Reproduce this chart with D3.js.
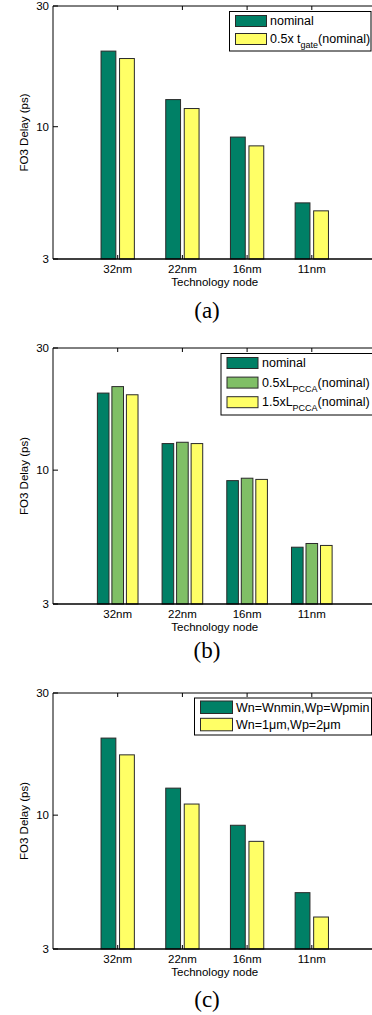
<!DOCTYPE html>
<html>
<head>
<meta charset="utf-8">
<script src="https://cdn.jsdelivr.net/npm/d3@7"></script>
<style>
  body { margin: 0; background: #fff; }
  svg { display: block; }
  text { font-family: "Liberation Sans", Arial, sans-serif; fill: #000; }
  .caption { font-family: "Liberation Serif", "Times New Roman", serif; }
</style>
</head>
<body>
<div id="chart"></div>
<script>

const categories = ["32nm", "22nm", "16nm", "11nm"]
const yTicks = [3, 10, 30]

// (a) gate thickness
const aNominal = [19.9, 12.8, 9.1, 5.0]
const aHalfTgate = [18.6, 11.8, 8.4, 4.65]

// (b) PCCA length
const bNominal = [20.0, 12.7, 9.1, 5.0]
const bHalfLpcca = [21.2, 12.85, 9.3, 5.17]
const bOneHalfLpcca = [19.7, 12.7, 9.2, 5.08]

// (c) device widths
const cMinWidth = [20.0, 12.75, 9.13, 4.98]
const cWideWidth = [17.2, 11.05, 7.9, 4.0]

const darkGreen = "#008066"
const lightGreen = "#80bf66"
const yellow = "#ffff66"

const width = 372
const height = 1015

const svg = d3.select("#chart").append("svg")
  .attr("width", width)
  .attr("height", height)

// x axis runs 0..5 with the categories at 1..4, right edge falls off the page
const x = d3.scaleLinear().domain([0, 5]).range([53, 376.5])

const panels = [
  {
    top: 6, bottom: 259, groupWidth: 0.515,
    series: [
      { values: aNominal, color: darkGreen, label: ["nominal"] },
      { values: aHalfTgate, color: yellow, label: ["0.5x t", "gate", "(nominal)"] }
    ],
    legend: { x: 229.5, y: 11.5, w: 141.5, h: 39.5, sx: 235.5, sw: 31, sy: 15.5, sh: 11, pitch: 18, tx: 270 },
    caption: "(a)", captionY: 318
  },
  {
    top: 348, bottom: 604, groupWidth: 0.628,
    series: [
      { values: bNominal, color: darkGreen, label: ["nominal"] },
      { values: bHalfLpcca, color: lightGreen, label: ["0.5xL", "PCCA", "(nominal)"] },
      { values: bOneHalfLpcca, color: yellow, label: ["1.5xL", "PCCA", "(nominal)"] }
    ],
    legend: { x: 221, y: 353.5, w: 170, h: 61.5, sx: 227, sw: 31, sy: 357.5, sh: 11, pitch: 19.6, tx: 262 },
    caption: "(b)", captionY: 658
  },
  {
    top: 693, bottom: 949, groupWidth: 0.515,
    series: [
      { values: cMinWidth, color: darkGreen, label: ["Wn=Wnmin,Wp=Wpmin"] },
      { values: cWideWidth, color: yellow, label: ["Wn=1\u03bcm,Wp=2\u03bcm"] }
    ],
    legend: { x: 194.5, y: 698, w: 177, h: 37, sx: 200.5, sw: 32, sy: 701, sh: 12.5, pitch: 17.3, tx: 236 },
    caption: "(c)", captionY: 1007
  }
]

panels.forEach(drawPanel)

function drawPanel(p) {
  const g = svg.append("g")
  const y = d3.scaleLog().domain([3, 30]).range([p.bottom, p.top])

  const sub = d3.scaleBand()
    .domain(d3.range(p.series.length))
    .range([-p.groupWidth / 2, p.groupWidth / 2])
    .paddingInner(0.2)
  const unit = x(1) - x(0)

  // ticks first so the bars sit over them
  const catX = d3.range(1, categories.length + 1)
  g.append("g").selectAll("line.bt")
    .data(catX).join("line")
    .attr("x1", d => x(d)).attr("x2", d => x(d))
    .attr("y1", p.bottom).attr("y2", p.bottom - 4)
    .attr("stroke", "#000")
  g.append("g").selectAll("line.tt")
    .data(catX).join("line")
    .attr("x1", d => x(d)).attr("x2", d => x(d))
    .attr("y1", p.top).attr("y2", p.top + 4)
    .attr("stroke", "#000")
  g.append("g").selectAll("line")
    .data(yTicks).join("line")
    .attr("x1", x(0)).attr("x2", x(0) + 5)
    .attr("y1", d => y(d)).attr("y2", d => y(d))
    .attr("stroke", "#000")

  // bars
  p.series.forEach((s, si) => {
    g.append("g").selectAll("rect")
      .data(s.values).join("rect")
      .attr("x", (d, i) => x(i + 1) + sub(si) * unit)
      .attr("width", sub.bandwidth() * unit)
      .attr("y", d => y(d))
      .attr("height", d => p.bottom - y(d))
      .attr("fill", s.color)
      .attr("stroke", "#2a2a2a")
      .attr("stroke-width", 1)
  })

  // axes box
  g.append("line")
    .attr("x1", x(0)).attr("x2", x(5))
    .attr("y1", p.top).attr("y2", p.top)
    .attr("stroke", "#000")
  g.append("line")
    .attr("x1", x(0)).attr("x2", x(5))
    .attr("y1", p.bottom).attr("y2", p.bottom)
    .attr("stroke", "#000").attr("stroke-width", 1.4)
  g.append("line")
    .attr("x1", x(0)).attr("x2", x(0))
    .attr("y1", p.top).attr("y2", p.bottom)
    .attr("stroke", "#000")

  // tick labels
  g.append("g").selectAll("text")
    .data(yTicks).join("text")
    .attr("x", x(0) - 4)
    .attr("y", d => y(d) + 4)
    .attr("text-anchor", "end")
    .style("font-size", "11.5px")
    .text(d => d)
  g.append("g").selectAll("text")
    .data(categories).join("text")
    .attr("x", (d, i) => x(i + 1))
    .attr("y", p.bottom + 14)
    .attr("text-anchor", "middle")
    .style("font-size", "11.5px")
    .text(d => d)

  g.append("text")
    .attr("x", x(2.5))
    .attr("y", p.bottom + 27)
    .attr("text-anchor", "middle")
    .style("font-size", "11.5px")
    .text("Technology node")

  g.append("text")
    .attr("transform", `translate(28,${(p.top + p.bottom) / 2}) rotate(-90)`)
    .attr("text-anchor", "middle")
    .style("font-size", "11.5px")
    .text("FO3 Delay (ps)")

  // legend
  const L = p.legend
  g.append("rect")
    .attr("x", L.x).attr("y", L.y)
    .attr("width", L.w).attr("height", L.h)
    .attr("fill", "#fff").attr("stroke", "#000")
  p.series.forEach((s, si) => {
    const ry = L.sy + si * L.pitch
    g.append("rect")
      .attr("x", L.sx).attr("y", ry)
      .attr("width", L.sw).attr("height", L.sh)
      .attr("fill", s.color).attr("stroke", "#2a2a2a")
    const t = g.append("text")
      .attr("x", L.tx)
      .attr("y", ry + L.sh - 1.5)
      .style("font-size", "12.5px")
    t.append("tspan").text(s.label[0])
    if (s.label.length > 1) {
      t.append("tspan")
        .attr("dy", 5)
        .style("font-size", "9px")
        .text(s.label[1])
      t.append("tspan")
        .attr("dy", -5)
        .text(s.label[2])
    }
  })

  svg.append("text")
    .attr("class", "caption")
    .attr("x", 207)
    .attr("y", p.captionY)
    .attr("text-anchor", "middle")
    .style("font-size", "23px")
    .text(p.caption)
}
</script>
</body>
</html>
